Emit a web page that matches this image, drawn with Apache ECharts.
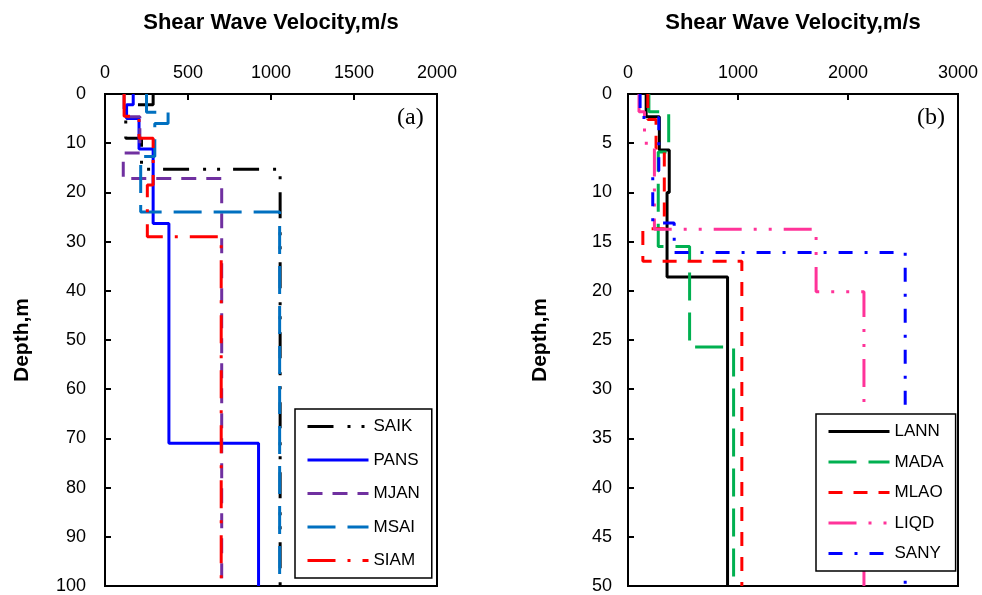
<!DOCTYPE html>
<html>
<head>
<meta charset="utf-8">
<script src="https://cdn.jsdelivr.net/npm/echarts@6/dist/echarts.min.js"></script>
<style>
  html, body { margin: 0; padding: 0; background: #fff; }
  #chart { width: 982px; height: 595px; }
</style>
</head>
<body>
<div id="chart"></div>
<script>
// (a) layer tops (m) and shear wave velocity of each layer (m/s), bottom at 100 m
const depthA = 100;
const saikTop = [0, 2.2, 9, 15.3];
const saikVs = [290, 125, 220, 1055];
const pansTop = [0, 2.2, 5, 11.2, 26.3, 71];
const pansVs = [170, 130, 205, 290, 385, 925];
const mjanTop = [0, 4.6, 12, 17.2];
const mjanVs = [115, 210, 110, 703];
const msaiTop = [0, 3.7, 6, 12.7, 24];
const msaiVs = [250, 380, 300, 215, 1052];
const siamTop = [0, 4.5, 9, 18.5, 29];
const siamVs = [115, 205, 290, 255, 700];

// (b) bottom at 50 m
const depthB = 50;
const lannTop = [0, 2.3, 5.7, 10, 18.6];
const lannVs = [165, 285, 375, 355, 905];
const madaTop = [0, 1.8, 5.9, 15.5, 25.7];
const madaVs = [190, 370, 275, 560, 960];
const mlaoTop = [0, 2.6, 5.5, 13.7, 17];
const mlaoVs = [180, 255, 330, 135, 1035];
const liqdTop = [0, 1.8, 5, 13.75, 20.1];
const liqdVs = [100, 150, 240, 1710, 2145];
const sanyTop = [0, 2.4, 7.8, 13.1, 16.1];
const sanyVs = [110, 280, 225, 420, 2520];

const xTicksA = [0, 2000, 500];
const xTicksB = [0, 3000, 1000];

// turn layers into a vertical step profile
function profile(tops, vs, bottom) {
    let pts = [];
    for (let i = 0; i < tops.length; i++) {
        let next = i + 1 < tops.length ? tops[i + 1] : bottom;
        pts.push([vs[i], tops[i]]);
        pts.push([vs[i], next]);
    }
    return pts;
}

const font = '"Liberation Sans", Arial, sans-serif';
const serif = '"Liberation Serif", "Times New Roman", serif';

function xAxis(idx, t) {
    return {
        type: 'value', gridIndex: idx, position: 'top',
        min: t[0], max: t[1], interval: t[2],
        name: 'Shear Wave Velocity,m/s', nameLocation: 'middle', nameGap: 60,
        nameTextStyle: { fontSize: 22, fontWeight: 'bold', color: '#000', fontFamily: font },
        axisLine: { show: true, lineStyle: { color: '#000', width: 2 } },
        axisTick: { inside: true, length: 6, lineStyle: { color: '#000', width: 2 } },
        axisLabel: { fontSize: 18, color: '#000', margin: 12, fontFamily: font,
            formatter: function (v) { return String(v); } },
        splitLine: { show: false }
    };
}
function yAxis(idx, max, step, gap, margin) {
    return {
        type: 'value', gridIndex: idx, inverse: true,
        min: 0, max: max, interval: step,
        name: 'Depth,m', nameLocation: 'middle', nameGap: gap,
        nameTextStyle: { fontSize: 21, fontWeight: 'bold', color: '#000', fontFamily: font },
        axisLine: { show: true, lineStyle: { color: '#000', width: 2 } },
        axisTick: { inside: true, length: 6, lineStyle: { color: '#000', width: 2 } },
        axisLabel: { fontSize: 18, color: '#000', margin: margin, fontFamily: font },
        splitLine: { show: false }
    };
}
function line(name, idx, data, color, type) {
    return {
        name: name, type: 'line', xAxisIndex: idx, yAxisIndex: idx,
        data: data, symbol: 'none', showSymbol: false, animation: false,
        lineStyle: { color: color, width: 3, type: type },
        itemStyle: { color: color }
    };
}
function legend(names, left, top, gap) {
    return {
        data: names, orient: 'vertical', left: left, top: top,
        itemWidth: 61, itemHeight: 14, itemGap: gap,
        padding: [9, 12, 9, 11],
        borderColor: '#000', borderWidth: 1.5,
        backgroundColor: '#fff',
        itemStyle: { opacity: 0 },
        lineStyle: { width: 3 },
        textStyle: { fontSize: 17, color: '#000', fontFamily: font }
    };
}

let chart = echarts.init(document.getElementById('chart'));
chart.setOption({
    backgroundColor: '#fff',
    grid: [
        { left: 105, top: 94, width: 332, height: 492, show: true, borderColor: '#000', borderWidth: 2 },
        { left: 628, top: 94, width: 330, height: 492, show: true, borderColor: '#000', borderWidth: 2 }
    ],
    xAxis: [xAxis(0, xTicksA), xAxis(1, xTicksB)],
    yAxis: [yAxis(0, 100, 10, 72, 19), yAxis(1, 50, 5, 77, 16)],
    legend: [
        legend(['SAIK', 'PANS', 'MJAN', 'MSAI', 'SIAM'], 295, 409, 16.5),
        legend(['LANN', 'MADA', 'MLAO', 'LIQD', 'SANY'], 816, 414, 13.5)
    ],
    graphic: [
        { type: 'text', left: 397, top: 106, style: { text: '(a)', fontSize: 24, fontFamily: serif, fill: '#000' } },
        { type: 'text', left: 917, top: 106, style: { text: '(b)', fontSize: 24, fontFamily: serif, fill: '#000' } }
    ],
    series: [
        line('SAIK', 0, profile(saikTop, saikVs, depthA), '#000000', [26, 14, 3, 11, 3, 13]),
        line('PANS', 0, profile(pansTop, pansVs, depthA), '#0000ff', 'solid'),
        line('MJAN', 0, profile(mjanTop, mjanVs, depthA), '#7030a0', [15, 10]),
        line('MSAI', 0, profile(msaiTop, msaiVs, depthA), '#0070c0', [28, 12]),
        line('SIAM', 0, profile(siamTop, siamVs, depthA), '#ff0000', [28, 12, 3, 12]),
        line('LANN', 1, profile(lannTop, lannVs, depthB), '#000000', 'solid'),
        line('MADA', 1, profile(madaTop, madaVs, depthB), '#00b050', [28, 12]),
        line('MLAO', 1, profile(mlaoTop, mlaoVs, depthB), '#ff0000', [14, 11]),
        line('LIQD', 1, profile(liqdTop, liqdVs, depthB), '#ff3399', [28, 12, 3, 12, 3, 12]),
        line('SANY', 1, profile(sanyTop, sanyVs, depthB), '#0000ff', [14, 12, 3, 12])
    ]
});
</script>
</body>
</html>
